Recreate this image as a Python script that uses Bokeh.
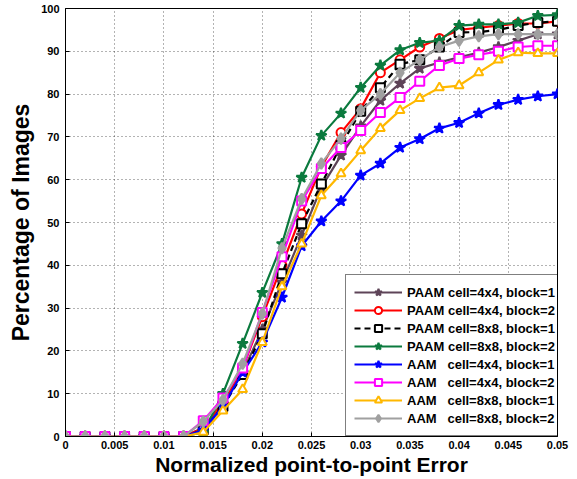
from bokeh.plotting import figure
from bokeh.models import Legend, LegendItem, FixedTicker
from bokeh.embed import file_html
from bokeh.resources import INLINE

x = [0, 0.002, 0.004, 0.006, 0.008, 0.010, 0.012, 0.014, 0.016, 0.018, 0.020,
     0.022, 0.024, 0.026, 0.028, 0.030, 0.032, 0.034, 0.036, 0.038, 0.040,
     0.042, 0.044, 0.046, 0.048, 0.050]
z = [0, 0, 0, 0, 0, 0, 0]

paam44b1 = z + [2, 7.5, 15, 25, 36, 47, 58.2, 65.7, 72.5, 78.5, 82.5, 86, 87.4, 88.6, 89.7, 91, 92.5, 94, 94]
paam44b2 = z + [2, 8, 16, 28, 40, 52, 63, 71, 76.6, 85, 88, 91, 93, 95, 95.5, 96, 96.5, 96.5, 97]
paam88b1 = z + [1.5, 7, 14.5, 24, 38, 49.7, 59, 68, 76, 81.5, 87, 88, 91, 94.4, 94.5, 95, 96, 96.7, 97]
paam88b2 = z + [1, 10, 21.7, 33.6, 45, 60.5, 70.3, 75.5, 81.5, 86.7, 90.3, 92, 92.5, 96, 96.3, 96.3, 96.7, 98.3, 98.5]
aam44b1 = z + [1.5, 7, 15, 22, 32.5, 44.5, 50.3, 55, 61, 63.8, 67.5, 69.5, 72, 73.3, 75.5, 77.5, 78.7, 79.5, 80]
aam44b2 = z + [3.7, 9, 16, 29, 42, 55, 62.6, 67.5, 71.5, 75.7, 79.2, 83, 86.7, 88.3, 89.2, 90, 91, 91.3, 91.3]
aam88b1 = z + [1, 6, 11, 22, 35, 45, 56.3, 61.4, 66.8, 72, 76.2, 79, 81.5, 82, 85, 88, 89.7, 89.5, 89.5]
aam88b2 = z + [3.5, 8.5, 17, 28.7, 44, 55.5, 63.8, 69.6, 76.2, 80, 85, 88, 91, 92.5, 93.5, 94, 94, 94, 94]

labels = ["PAAM cell=4x4, block=1", "PAAM cell=4x4, block=2",
          "PAAM cell=8x8, block=1", "PAAM cell=8x8, block=2",
          "AAM   cell=4x4, block=1", "AAM   cell=4x4, block=2",
          "AAM   cell=8x8, block=1", "AAM   cell=8x8, block=2"]

xticks = [0, 0.005, 0.01, 0.015, 0.02, 0.025, 0.03, 0.035, 0.04, 0.045, 0.05]
xtick_labels = ["0", "0.005", "0.01", "0.015", "0.02", "0.025", "0.03", "0.035", "0.04", "0.045", "0.05"]
yticks = [0, 10, 20, 30, 40, 50, 60, 70, 80, 90, 100]

p = figure(width=577, height=479, output_backend="svg", toolbar_location=None,
           x_range=(0, 0.05), y_range=(0, 100))
p.min_border_left = 65
p.min_border_right = 20
p.min_border_top = 8
p.min_border_bottom = 43
p.outline_line_color = "black"
p.outline_line_width = 1
p.background_fill_color = "white"
p.border_fill_color = "white"

FONT = "Liberation Sans"
for ax in (p.xaxis[0], p.yaxis[0]):
    ax.axis_line_color = "black"
    ax.major_tick_in = 4
    ax.major_tick_out = 0
    ax.minor_tick_line_color = None
    ax.major_label_text_font = FONT
    ax.major_label_text_font_style = "bold"
    ax.major_label_text_font_size = "11px"
    ax.major_label_text_color = "black"
    ax.axis_label_text_font = FONT
    ax.axis_label_text_font_style = "bold"
    ax.axis_label_text_color = "black"

p.xaxis.ticker = FixedTicker(ticks=xticks)
p.xaxis.major_label_overrides = {t: l for t, l in zip(xticks, xtick_labels)}
p.yaxis.ticker = FixedTicker(ticks=yticks)
p.xaxis.axis_label = "Normalized point-to-point Error"
p.yaxis.axis_label = "Percentage of Images"
p.xaxis.axis_label_text_font_size = "21px"
p.yaxis.axis_label_text_font_size = "23px"
p.xaxis.major_label_standoff = 4
p.yaxis.major_label_standoff = 6
p.xaxis.axis_label_standoff = 1
p.yaxis.axis_label_standoff = 4

for g in (p.xgrid[0], p.ygrid[0]):
    g.grid_line_color = "black"
    g.grid_line_alpha = 0.6
    g.grid_line_dash = "1 3"
    g.grid_line_width = 1

series = [
    (paam44b1, "#5E4458", "star", "#5E4458", "solid"),
    (paam44b2, "#FF0000", "circle", "white", "solid"),
    (paam88b1, "#000000", "square", "white", "6 4"),
    (paam88b2, "#0B7A3E", "star", "#0B7A3E", "solid"),
    (aam44b1, "#0000FF", "star", "#0000FF", "solid"),
    (aam44b2, "#FF00FF", "square", "white", "solid"),
    (aam88b1, "#FFB800", "triangle", "white", "solid"),
    (aam88b2, "#A0A0A0", "diamond", "#A0A0A0", "solid"),
]

items = []
for (ys, col, mk, fill, dash), lab in zip(series, labels):
    r1 = p.line(x, ys, line_color=col, line_width=2.2, line_dash=dash)
    size = 11 if mk in ("star", "diamond") else 9
    r2 = p.scatter(x, ys, marker=mk, size=size, line_color=col, fill_color=fill,
                   line_width=2)
    items.append(LegendItem(label=lab, renderers=[r1, r2]))

legend = Legend(items=items, location=(280, 0))
legend.label_text_font = FONT
legend.label_text_font_style = "bold"
legend.label_text_font_size = "13px"
legend.label_text_color = "black"
legend.glyph_width = 48
legend.glyph_height = 18
legend.label_height = 18
legend.spacing = 0
legend.padding = 8
legend.margin = 0
legend.label_standoff = 5
legend.border_line_color = "black"
legend.border_line_width = 1
legend.background_fill_color = "white"
legend.background_fill_alpha = 1
p.add_layout(legend, "center")

open("out.html", "w").write(file_html(p, INLINE))
